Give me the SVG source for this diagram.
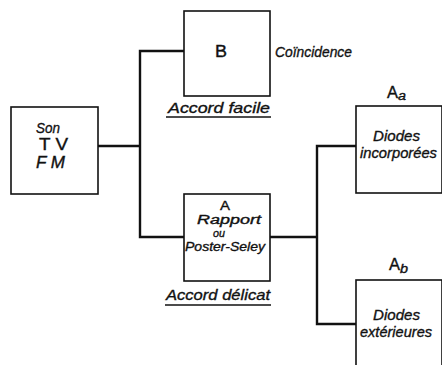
<svg xmlns="http://www.w3.org/2000/svg" width="442" height="365" viewBox="0 0 442 365">
<style>
.box{fill:#fff;stroke:#111;stroke-width:1.6}
.wire{fill:none;stroke:#111;stroke-width:2.4}
.ul{stroke:#111;stroke-width:1.5}
text{font-family:"Liberation Sans","DejaVu Sans",sans-serif;fill:#111;stroke:#111;stroke-width:0.35}
.it{font-style:italic;font-size:15px}
.up{font-size:16px}
.sm{font-size:12px}
</style>
<rect width="442" height="365" fill="#fff"/>
<g id="connectors">
<polyline class="wire" points="98,146 140,146"/>
<polyline class="wire" points="184,51 140,51 140,237 184,237"/>
<polyline class="wire" points="270,237 317,237"/>
<polyline class="wire" points="356,146 317,146 317,324 356,324"/>
</g>
<g id="son">
<rect class="box" x="11" y="107" width="87" height="87"/>
<text class="it" x="36" y="133" textLength="24" lengthAdjust="spacingAndGlyphs">Son</text>
<text class="up" x="39" y="150" textLength="29" lengthAdjust="spacingAndGlyphs">T V</text>
<text class="it up" x="36" y="168" textLength="29" lengthAdjust="spacingAndGlyphs">F M</text>
</g>
<g id="B">
<rect class="box" x="184" y="11" width="86" height="85"/>
<text class="up" x="215" y="57" textLength="12" lengthAdjust="spacingAndGlyphs">B</text>
<text class="it" x="275" y="57" textLength="77" lengthAdjust="spacingAndGlyphs">Coïncidence</text>
<text class="it" x="168" y="113" textLength="102" lengthAdjust="spacingAndGlyphs">Accord  facile</text>
<line class="ul" x1="166" y1="117" x2="271" y2="117"/>
</g>
<g id="A">
<rect class="box" x="184" y="194" width="86" height="87"/>
<text style="font-size:13px" x="220" y="210" textLength="10" lengthAdjust="spacingAndGlyphs">A</text>
<text class="it" style="font-size:12px" x="197" y="224" textLength="64" lengthAdjust="spacingAndGlyphs">Rapport</text>
<text class="it" style="font-size:11px" x="213" y="236.5" textLength="12" lengthAdjust="spacingAndGlyphs">ou</text>
<text class="it" style="font-size:13px" x="185" y="251" textLength="80" lengthAdjust="spacingAndGlyphs">Poster-Seley</text>
<text class="it" x="166" y="300" textLength="104" lengthAdjust="spacingAndGlyphs">Accord  délicat</text>
<line class="ul" x1="165" y1="305" x2="271" y2="305"/>
</g>
<g id="Aa">
<rect class="box" x="356" y="106" width="86" height="87"/>
<text class="up" x="387" y="98" textLength="11" lengthAdjust="spacingAndGlyphs">A</text>
<text class="it sm" x="398" y="100" textLength="8" lengthAdjust="spacingAndGlyphs">a</text>
<text class="it" x="373" y="141" textLength="47" lengthAdjust="spacingAndGlyphs">Diodes</text>
<text class="it" x="360" y="158" textLength="77" lengthAdjust="spacingAndGlyphs">incorporées</text>
</g>
<g id="Ab">
<rect class="box" x="356" y="280" width="86" height="95"/>
<text class="up" x="389" y="270" textLength="11" lengthAdjust="spacingAndGlyphs">A</text>
<text class="it sm" x="400" y="273" textLength="8" lengthAdjust="spacingAndGlyphs">b</text>
<text class="it" x="373" y="320" textLength="47" lengthAdjust="spacingAndGlyphs">Diodes</text>
<text class="it" x="360" y="337" textLength="72" lengthAdjust="spacingAndGlyphs">extérieures</text>
</g>
</svg>
